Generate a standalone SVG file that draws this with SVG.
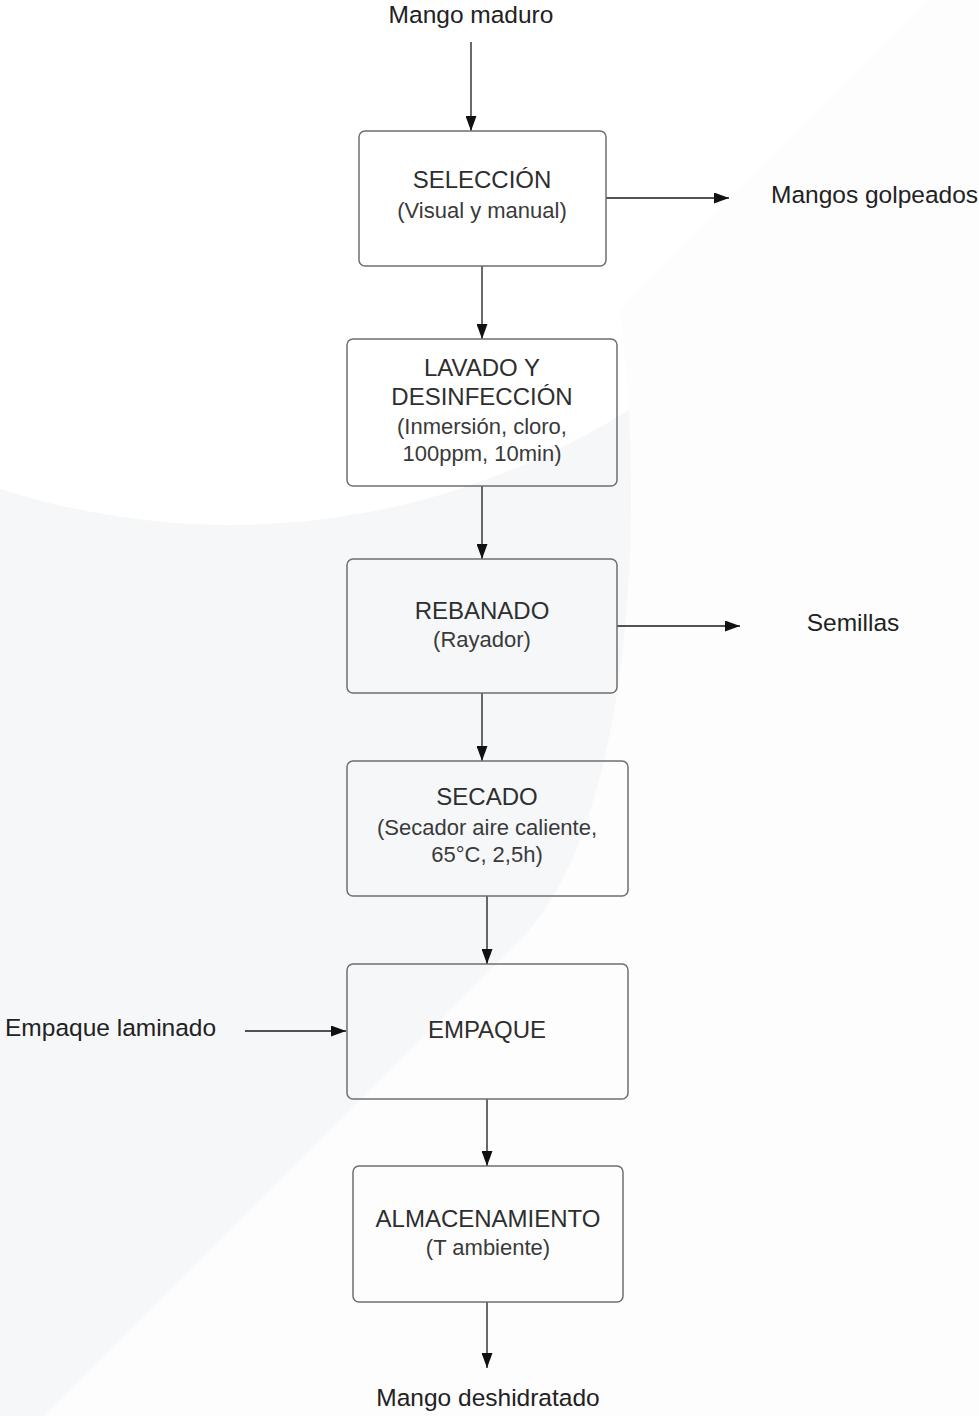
<svg xmlns="http://www.w3.org/2000/svg" width="979" height="1416" viewBox="0 0 979 1416">
<style>
.box{fill:none;stroke:#6f6f6f;stroke-width:1.5}
.t{font-family:"Liberation Sans",Arial,sans-serif;font-size:24px;fill:#2e2e2e;text-anchor:middle}
.s{font-family:"Liberation Sans",Arial,sans-serif;font-size:22px;fill:#3a3a3a;text-anchor:middle}
.l{font-family:"Liberation Sans",Arial,sans-serif;font-size:24.5px;fill:#222}
.c{stroke:#1a1a1a;stroke-width:1.3;fill:none;marker-end:url(#ah)}
</style>
<defs>
<marker id="ah" viewBox="0 0 15 11" refX="15" refY="5.5" markerWidth="15" markerHeight="11" markerUnits="userSpaceOnUse" orient="auto">
<path d="M0,0 L15,5.5 L0,11 Z" fill="#111"/>
</marker>
</defs>
<g id="background">
<rect width="979" height="1416" fill="#f6f7f8"/>
<ellipse cx="230" cy="-250" rx="760" ry="775" fill="#ffffff"/>
<path d="M927,0 L979,0 L979,1416 L44,1416 L520,940 C620,840 650,560 620,310 Z" fill="#fdfdfe"/>
</g>
<g id="connectors">
<line class="c" x1="471" y1="42" x2="471" y2="131"/>
<line class="c" x1="482" y1="266" x2="482" y2="339"/>
<line class="c" x1="482" y1="486" x2="482" y2="559"/>
<line class="c" x1="482" y1="693" x2="482" y2="761"/>
<line class="c" x1="487" y1="896" x2="487" y2="964"/>
<line class="c" x1="487" y1="1099" x2="487" y2="1166"/>
<line class="c" x1="487" y1="1302" x2="487" y2="1368"/>
<line class="c" x1="606" y1="198" x2="729" y2="198"/>
<line class="c" x1="617" y1="626" x2="740" y2="626"/>
<line class="c" x1="245" y1="1031" x2="346" y2="1031"/>
</g>
<g id="mango-maduro"><text class="l" x="471" y="23" text-anchor="middle">Mango maduro</text></g>
<g id="seleccion">
<rect class="box" x="359" y="131" width="247" height="135" rx="6"/>
<text class="t" x="482" y="188">SELECCIÓN</text>
<text class="s" x="482" y="218">(Visual y manual)</text>
</g>
<g id="mangos-golpeados"><text class="l" x="771" y="203">Mangos golpeados</text></g>
<g id="lavado">
<rect class="box" x="347" y="339" width="270" height="147" rx="6"/>
<text class="t" x="482" y="376">LAVADO Y</text>
<text class="t" x="482" y="405">DESINFECCIÓN</text>
<text class="s" x="482" y="434">(Inmersión, cloro,</text>
<text class="s" x="482" y="461">100ppm, 10min)</text>
</g>
<g id="rebanado">
<rect class="box" x="347" y="559" width="270" height="134" rx="6"/>
<text class="t" x="482" y="619">REBANADO</text>
<text class="s" x="482" y="647">(Rayador)</text>
</g>
<g id="semillas"><text class="l" x="853" y="631" text-anchor="middle">Semillas</text></g>
<g id="secado">
<rect class="box" x="347" y="761" width="281" height="135" rx="6"/>
<text class="t" x="487" y="805">SECADO</text>
<text class="s" x="487" y="835">(Secador aire caliente,</text>
<text class="s" x="487" y="862">65°C, 2,5h)</text>
</g>
<g id="empaque-laminado"><text class="l" x="5" y="1036">Empaque laminado</text></g>
<g id="empaque">
<rect class="box" x="347" y="964" width="281" height="135" rx="6"/>
<text class="t" x="487" y="1038">EMPAQUE</text>
</g>
<g id="almacenamiento">
<rect class="box" x="353" y="1166" width="270" height="136" rx="6"/>
<text class="t" x="488" y="1227">ALMACENAMIENTO</text>
<text class="s" x="488" y="1255">(T ambiente)</text>
</g>
<g id="mango-deshidratado"><text class="l" x="488" y="1406" text-anchor="middle">Mango deshidratado</text></g>
</svg>
